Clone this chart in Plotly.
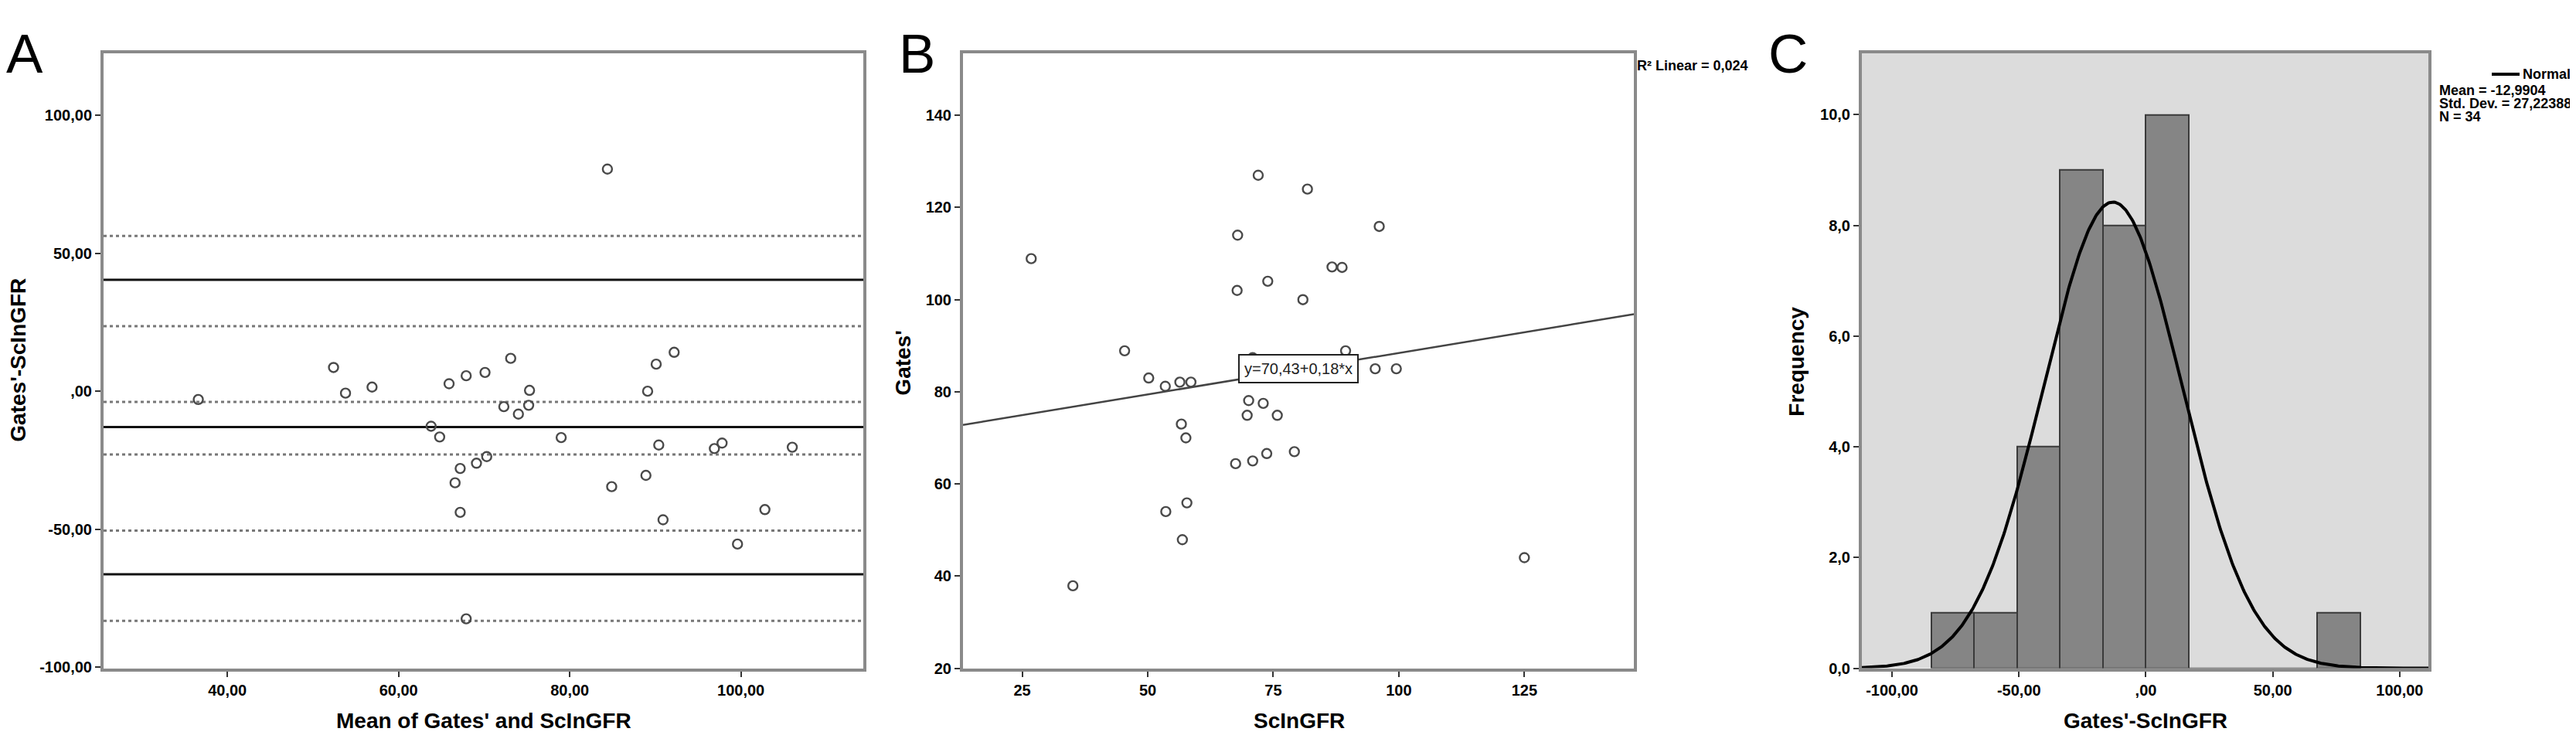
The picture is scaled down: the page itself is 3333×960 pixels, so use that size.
import numpy as np
import plotly.graph_objects as go

# ---------------- data ----------------
# Panel A: Bland-Altman (mean of methods, difference)
a_mean = [36.6, 52.4, 53.8, 56.9, 63.8, 64.8, 65.9, 67.9, 70.1, 73.1, 72.3, 74.0,
          75.3, 75.2, 67.2, 69.1, 70.3, 66.6, 67.2, 67.9, 79.0, 84.4, 84.9, 88.9,
          89.1, 90.1, 92.2, 90.4, 90.9, 96.9, 97.8, 99.6, 102.8, 106.0]
a_diff = [-3.0, 8.6, -0.7, 1.5, -12.7, -16.6, 2.7, 5.6, 6.8, 11.9, -5.6, -8.3,
          0.3, -5.1, -28.0, -26.1, -23.7, -33.2, -43.9, -82.5, -16.8, 80.5, -34.6, -30.5,
          0.0, 9.8, 14.1, -19.5, -46.6, -20.8, -18.8, -55.4, -42.9, -20.3]
a_solid_lines = [40.37, -12.99, -66.35]
a_dotted_lines = [56.3, 23.6, -3.9, -22.9, -50.5, -83.2]
a_xticks = [40, 60, 80, 100]
a_xticklabels = ["40,00", "60,00", "80,00", "100,00"]
a_yticks = [-100, -50, 0, 50, 100]
a_yticklabels = ["-100,00", "-50,00", ",00", "50,00", "100,00"]

# Panel B: scatter ScInGFR vs Gates'
b_scin = [26.8, 35.1, 45.4, 50.2, 53.5, 56.4, 58.6, 56.7, 57.6, 57.8, 53.6, 56.9,
          67.9, 67.8, 72.0, 73.9, 81.8, 80.9, 86.7, 88.7, 96.1, 89.4, 95.3, 99.5,
          70.1, 73.0, 69.8, 75.8, 67.5, 70.9, 73.7, 79.2, 125.0, 70.9]
b_gates = [108.9, 37.9, 88.9, 83.0, 81.2, 82.1, 82.1, 73.0, 70.0, 55.9, 54.0, 47.9,
           114.0, 102.0, 127.0, 104.0, 124.0, 100.0, 107.1, 107.0, 115.9, 88.9, 85.0, 85.0,
           78.1, 77.5, 74.9, 74.9, 64.4, 65.0, 66.6, 67.0, 44.0, 87.4]
b_intercept = 70.43
b_slope = 0.18
b_xticks = [25, 50, 75, 100, 125]
b_yticks = [20, 40, 60, 80, 100, 120, 140]

# Panel C: histogram of differences
c_edges = [-84.5, -67.6, -50.7, -33.8, -16.9, 0.0, 16.9, 33.8, 50.7, 67.6, 84.5]
c_counts = [1, 1, 4, 9, 8, 10, 0, 0, 0, 1]
c_mean = -12.9904
c_sd = 27.22388
c_n = 34
c_xticks = [-100, -50, 0, 50, 100]
c_xticklabels = ["-100,00", "-50,00", ",00", "50,00", "100,00"]
c_yticks = [0, 2, 4, 6, 8, 10]
c_yticklabels = ["0,0", "2,0", "4,0", "6,0", "8,0", "10,0"]

# ---------------- layout constants ----------------
W, H = 3333, 960
def px(x):
    return x / W
def py(y):
    return 1 - y / H

top, bottom = 61.5, 866.5
ydom = [py(bottom), py(top)]
A_dom = [px(126), px(1109)]
B_dom = [px(1238), px(2106)]
C_dom = [px(2401), px(3134)]
A_xr, A_yr = [25.53, 114.3], [-100.4, 122.5]
B_xr, B_yr = [13.22, 146.8], [20.0, 153.5]
C_xr, C_yr = [-111.9, 111.3], [0.0, 11.11]

FONT = "Liberation Sans, Arial, sans-serif"
tickfont = dict(family=FONT, size=20, color="black", weight="bold")
frame = "#8a8a8a"
marker_style = dict(symbol="circle-open", size=12, color="#4a4a4a", line=dict(width=2.4, color="#4a4a4a"))

fig = go.Figure()

# Panel A
fig.add_trace(go.Scatter(x=a_mean, y=a_diff, mode="markers", marker=marker_style,
                         xaxis="x", yaxis="y", showlegend=False))
# Panel B
fig.add_trace(go.Scatter(x=b_scin, y=b_gates, mode="markers", marker=marker_style,
                         xaxis="x2", yaxis="y2", showlegend=False))
reg_x = np.array(B_xr)
fig.add_trace(go.Scatter(x=reg_x, y=b_intercept + b_slope * reg_x, mode="lines",
                         line=dict(color="#444444", width=2.5),
                         xaxis="x2", yaxis="y2", showlegend=False))
# Panel C
edges = np.array(c_edges)
centers = (edges[:-1] + edges[1:]) / 2
widths = np.diff(edges)
fig.add_trace(go.Bar(x=centers, y=c_counts, width=widths,
                     marker=dict(color="#858585", line=dict(color="#3a3a3a", width=2)),
                     xaxis="x3", yaxis="y3", showlegend=False))
bw = widths.mean()
nx = np.linspace(C_xr[0], C_xr[1], 500)
ny = c_n * bw / (c_sd * np.sqrt(2 * np.pi)) * np.exp(-((nx - c_mean) ** 2) / (2 * c_sd ** 2))
fig.add_trace(go.Scatter(x=nx, y=ny, mode="lines", line=dict(color="black", width=4),
                         xaxis="x3", yaxis="y3", showlegend=False))

shapes = []
for v in a_dotted_lines:
    shapes.append(dict(type="line", xref="x domain", yref="y", x0=0, x1=1, y0=v, y1=v,
                       line=dict(color="#777777", width=3, dash="4px,4px"), layer="below"))
for v in a_solid_lines:
    shapes.append(dict(type="line", xref="x domain", yref="y", x0=0, x1=1, y0=v, y1=v,
                       line=dict(color="#111111", width=3), layer="below"))

def axis(dom, rng, tickvals, ticktext, anchor, **kw):
    d = dict(domain=dom, range=rng, tickvals=tickvals, ticktext=ticktext, anchor=anchor,
             showline=True, linecolor=frame, linewidth=4, mirror=True,
             ticks="outside", ticklen=7, tickwidth=2, tickcolor="#333333",
             tickfont=tickfont, showgrid=False, zeroline=False, fixedrange=True)
    d.update(kw)
    return d

b_labels = [str(v) for v in b_xticks]
b_ylabels = [str(v) for v in b_yticks]

fig.update_layout(
    width=W, height=H, margin=dict(l=0, r=0, t=0, b=0),
    paper_bgcolor="white", plot_bgcolor="white",
    xaxis=axis(A_dom, A_xr, a_xticks, a_xticklabels, "y"),
    yaxis=axis(ydom, A_yr, a_yticks, a_yticklabels, "x"),
    xaxis2=axis(B_dom, B_xr, b_xticks, b_labels, "y2"),
    yaxis2=axis(ydom, B_yr, b_yticks, b_ylabels, "x2"),
    xaxis3=axis(C_dom, C_xr, c_xticks, c_xticklabels, "y3"),
    yaxis3=axis(ydom, C_yr, c_yticks, c_yticklabels, "x3"),
    shapes=shapes + [
        dict(type="rect", xref="x3 domain", yref="y3 domain", x0=0, x1=1, y0=0, y1=1,
             fillcolor="#dcdcdc", line=dict(width=0), layer="below"),
    ],
    bargap=0,
)

bold = lambda s: "<b>" + s + "</b>"
title_font = dict(family=FONT, size=28, color="black")

def pann(text, x, y, font, xanchor="center", **kw):
    d = dict(text=text, x=px(x), y=py(y), xref="paper", yref="paper", showarrow=False,
             font=font, xanchor=xanchor, yanchor="middle")
    d.update(kw)
    return d

ann = []
# axis titles
ann.append(pann(bold("Mean of Gates' and ScInGFR"), 618, 935, title_font))
ann.append(pann(bold("ScInGFR"), 1673, 935, title_font))
ann.append(pann(bold("Gates'-ScInGFR"), 2768, 935, title_font))
ann.append(pann(bold("Gates'-ScInGFR"), 16, 463, title_font, textangle=-90))
ann.append(pann(bold("Gates'"), 1161, 467, title_font, textangle=-90))
ann.append(pann(bold("Frequency"), 2317, 465, title_font, textangle=-90))
# panel letters
letter_font = dict(family=FONT, size=71, color="black")
for t, x in [("A", 24), ("B", 1178), ("C", 2305)]:
    ann.append(pann(t, x, 62, letter_font))
# regression label
ann.append(dict(text="y=70,43+0,18*x", x=80.0, y=84.95, xref="x2", yref="y2", showarrow=False,
                xanchor="center", yanchor="middle",
                font=dict(family=FONT, size=20, color="#222222"), bgcolor="white",
                bordercolor="#222222", borderwidth=2, borderpad=6))
ann.append(pann(bold("R² Linear = 0,024"), 2108, 78, dict(family=FONT, size=18, color="black"), xanchor="left"))
# normal legend
small = dict(family=FONT, size=18, color="black")
ann.append(pann(bold("Normal"), 3254, 89, small, xanchor="left"))
ann.append(pann(bold("Mean = -12,9904"), 3146, 110, small, xanchor="left"))
ann.append(pann(bold("Std. Dev. = 27,22388"), 3146, 127, small, xanchor="left"))
ann.append(pann(bold("N = 34"), 3146, 145, small, xanchor="left"))
fig.update_layout(annotations=ann)
fig.add_shape(type="line", xref="paper", yref="paper", x0=px(3216), x1=px(3252), y0=py(89), y1=py(89),
              line=dict(color="black", width=4))

fig.write_html("out.html")
